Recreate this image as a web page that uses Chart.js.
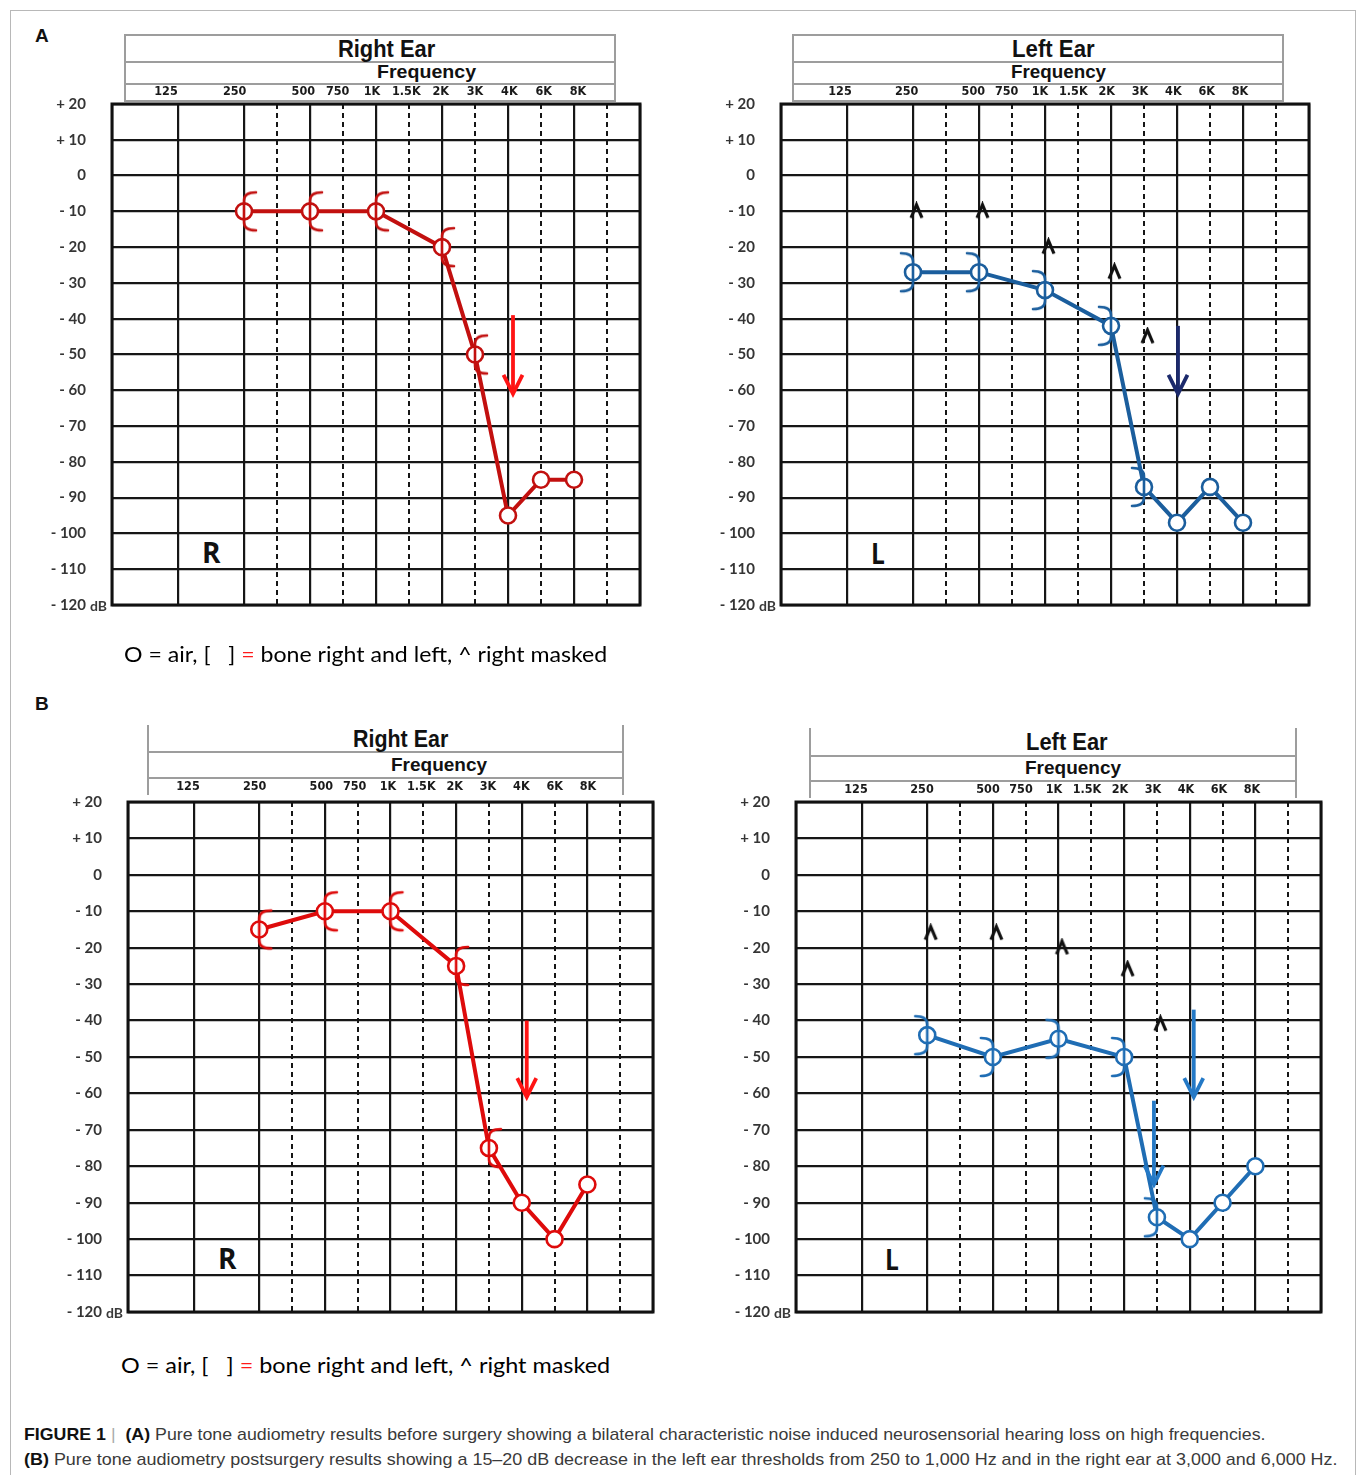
<!DOCTYPE html>
<html>
<head>
<meta charset="utf-8">
<script src="https://cdn.jsdelivr.net/npm/chart.js@4.4.0/dist/chart.umd.min.js"></script>
<style>
  html, body { margin: 0; padding: 0; background: #ffffff; }
  body { width: 1358px; height: 1475px; position: relative; overflow: hidden; font-family: "Liberation Sans", Arial, sans-serif; }
  .frame { position: absolute; left: 10px; top: 10px; width: 1346px; height: 1500px; border: 1px solid #b8b8b8; box-sizing: border-box; }
  .hline { position: absolute; height: 0; border-top: 2px solid #9d9d9d; }
  .vline { position: absolute; width: 0; border-left: 2px solid #9d9d9d; }
  .fit { position: absolute; white-space: nowrap; transform-origin: left center; line-height: 1; }
</style>
</head>
<body>
<div class="frame"></div>
<script>
// ---------------- DATA ----------------
// frequency axis (header tick labels)
const FREQ_LABELS = ['125', '250', '500', '750', '1K', '1.5K', '2K', '3K', '4K', '6K', '8K'];
const FREQ_HZ     = [125, 250, 500, 750, 1000, 1500, 2000, 3000, 4000, 6000, 8000];
// hearing level axis
const Y_TICKS       = [20, 10, 0, -10, -20, -30, -40, -50, -60, -70, -80, -90, -100, -110, -120];
const Y_TICK_LABELS = ['+ 20', '+ 10', '0', '- 10', '- 20', '- 30', '- 40', '- 50', '- 60', '- 70', '- 80', '- 90', '- 100', '- 110', '- 120'];

// tested frequencies
const AIR_FREQS  = [250, 500, 1000, 2000, 3000, 4000, 6000, 8000];
const BONE_FREQS = [250, 500, 1000, 2000, 3000];
const MASK_FREQS = [250, 500, 1000, 2000, 3000];

// (A) before surgery
const A_RIGHT_AIR  = [-10, -10, -10, -20, -50, -95, -85, -85];
const A_RIGHT_BONE = [-10, -10, -10, -20, -50];
const A_LEFT_AIR   = [-27, -27, -32, -42, -87, -97, -87, -97];
const A_LEFT_BONE  = [-27, -27, -32, -42, -87];
const A_LEFT_MASKED = [-10, -10, -20, -27, -45];
const A_RIGHT_ARROW_FREQ = [4000];
const A_RIGHT_ARROW_FROM = [-39];
const A_RIGHT_ARROW_TO   = [-61];
const A_LEFT_ARROW_FREQ  = [4000];
const A_LEFT_ARROW_FROM  = [-42];
const A_LEFT_ARROW_TO    = [-61];

// (B) after surgery
const B_RIGHT_AIR  = [-15, -10, -10, -25, -75, -90, -100, -85];
const B_RIGHT_BONE = [-15, -10, -10, -25, -75];
const B_LEFT_AIR   = [-44, -50, -45, -50, -94, -100, -90, -80];
const B_LEFT_BONE  = [-44, -50, -45, -50, -94];
const B_LEFT_MASKED = [-16, -16, -20, -26, -41];
const B_RIGHT_ARROW_FREQ = [4000];
const B_RIGHT_ARROW_FROM = [-40];
const B_RIGHT_ARROW_TO   = [-61];
const B_LEFT_ARROW_FREQ  = [4000, 3000];
const B_LEFT_ARROW_FROM  = [-37, -62];
const B_LEFT_ARROW_TO    = [-61, -85];

// ---------------- HELPERS ----------------
// audiogram position: octaves above 62.5 Hz, inter-octave frequencies drawn half way
function octavePos(f) { return Math.round(2 * Math.log2(f / 62.5)) / 2; }

const GRID_X = [0, 1, 2, 2.5, 3, 3.5, 4, 4.5, 5, 5.5, 6, 6.5, 7, 7.5, 8];
const YW = 70, PADR = 16, PADB = 40, TOPH = 40;

function fitText(html, opts) {
  const d = document.createElement('div');
  d.className = 'fit';
  d.innerHTML = html;
  d.style.font = opts.font;
  d.style.color = opts.color || '#111';
  document.body.appendChild(d);
  const w = d.offsetWidth, h = d.offsetHeight;
  const sx = opts.width ? opts.width / w : 1;
  const fw = w * sx;
  const left = opts.left !== undefined ? opts.left : opts.cx - fw / 2;
  d.style.left = left + 'px';
  d.style.top = (opts.cy - h / 2) + 'px';
  d.style.transform = 'scaleX(' + sx + ')';
  return d;
}

function line(cls, x, y, len) {
  const d = document.createElement('div');
  d.className = cls;
  d.style.left = x + 'px';
  d.style.top = y + 'px';
  if (cls === 'hline') d.style.width = len + 'px'; else d.style.height = len + 'px';
  document.body.appendChild(d);
}

function bracketCanvas(color, opensRight) {
  const c = document.createElement('canvas');
  c.width = 30; c.height = 44;
  const g = c.getContext('2d');
  g.strokeStyle = color; g.lineWidth = 2.6; g.lineCap = 'round';
  const cx = 15, s = opensRight ? 1 : -1;
  g.beginPath();
  g.moveTo(cx + s * 12, 3);
  g.quadraticCurveTo(cx, 3, cx, 11);
  g.lineTo(cx, 33);
  g.quadraticCurveTo(cx, 41, cx + s * 12, 41);
  g.stroke();
  return c;
}

function caretCanvas() {
  const c = document.createElement('canvas');
  c.width = 32; c.height = 20;
  const g = c.getContext('2d');
  g.strokeStyle = '#111'; g.lineWidth = 3.2; g.lineJoin = 'miter'; g.lineCap = 'butt';
  g.beginPath();
  g.moveTo(14, 16.5); g.lineTo(19.5, 3.5); g.lineTo(25, 16.5);
  g.stroke();
  return c;
}

function buildPanel(cfg) {
  const a = cfg.area;
  // header box
  const hb = cfg.header;
  line('vline', hb.l, hb.t, hb.b - hb.t);
  line('vline', hb.r, hb.t, hb.b - hb.t);
  if (hb.top) line('hline', hb.l, hb.t, hb.r - hb.l + 2);
  if (hb.bottom) line('hline', hb.l, hb.b, hb.r - hb.l + 2);
  hb.lines.forEach(y => line('hline', hb.l, y, hb.r - hb.l + 2));
  fitText(cfg.title.text, { font: 'bold 23px "Liberation Sans Narrow", "Arial Narrow", "Liberation Sans", sans-serif', cx: cfg.title.cx, cy: cfg.title.cy, width: cfg.title.w });
  fitText('Frequency', { font: 'bold 18px "Liberation Sans Narrow", "Arial Narrow", "Liberation Sans", sans-serif', cx: cfg.freqTitle.cx, cy: cfg.freqTitle.cy, width: cfg.freqTitle.w });
  fitText(cfg.ear.text, { font: 'bold 28px "Open Sans", sans-serif', cx: cfg.ear.cx, cy: cfg.ear.cy, width: cfg.ear.w });

  const cv = document.createElement('canvas');
  const left = a.l - YW, top = a.t - TOPH;
  const w = a.r - a.l + YW + PADR, h = a.b - a.t + TOPH + PADB;
  cv.width = w; cv.height = h;
  Object.assign(cv.style, { position: 'absolute', left: left + 'px', top: top + 'px', width: w + 'px', height: h + 'px' });
  document.body.appendChild(cv);

  const k = (cfg.lab.b - cfg.lab.a) / 6;
  const tmin = 1 - (cfg.lab.a - a.l) / k;
  const tmax = tmin + (a.r - a.l) / k;

  const datasets = [{
    label: 'air',
    data: AIR_FREQS.map((f, i) => ({ x: octavePos(f), y: cfg.air[i] })),
    showLine: true,
    borderColor: cfg.color, borderWidth: 4, tension: 0,
    pointStyle: 'circle', pointRadius: 8, pointBorderWidth: 2.6,
    pointBorderColor: cfg.color, pointBackgroundColor: '#ffffff',
    order: 3
  }, {
    label: 'bone',
    data: BONE_FREQS.map((f, i) => ({ x: octavePos(f), y: cfg.bone[i] })),
    showLine: false,
    pointStyle: bracketCanvas(cfg.color, cfg.side === 'R'),
    pointRadius: 6,
    order: 2
  }];
  if (cfg.masked) {
    datasets.push({
      label: 'masked',
      data: MASK_FREQS.map((f, i) => ({ x: octavePos(f), y: cfg.masked[i] })),
      showLine: false,
      pointStyle: caretCanvas(),
      pointRadius: 6,
      order: 1
    });
  }

  const panelPlugin = {
    id: 'panel' + cfg.side,
    afterDatasetsDraw(chart) {
      const { ctx, scales: { x, y } } = chart;
      cfg.arrows.freq.forEach((f, i) => {
        const px = x.getPixelForValue(octavePos(f)) + cfg.arrowNudge[i];
        const y1 = y.getPixelForValue(cfg.arrows.from[i]);
        const y2 = y.getPixelForValue(cfg.arrows.to[i]);
        ctx.save();
        ctx.strokeStyle = cfg.arrowColor; ctx.lineWidth = 3.8; ctx.lineCap = 'butt'; ctx.lineJoin = 'miter';
        ctx.beginPath(); ctx.moveTo(px, y1); ctx.lineTo(px, y2 - 2); ctx.stroke();
        ctx.beginPath(); ctx.moveTo(px - 9.5, y2 - 19); ctx.lineTo(px, y2); ctx.lineTo(px + 9.5, y2 - 19); ctx.stroke();
        ctx.restore();
      });
    },
    afterDraw(chart) {
      const { ctx, chartArea: ca, scales: { y } } = chart;
      ctx.save();
      ctx.strokeStyle = '#111'; ctx.lineWidth = 3;
      ctx.strokeRect(ca.left, ca.top, ca.right - ca.left, ca.bottom - ca.top);
      ctx.fillStyle = '#3a3a3a';
      ctx.font = 'bold 14px Lato, sans-serif';
      ctx.textBaseline = 'middle'; ctx.textAlign = 'left';
      ctx.fillText('dB', ca.left - 22, y.getPixelForValue(-120) + 1);
      ctx.restore();
    }
  };

  new Chart(cv, {
    type: 'scatter',
    data: { datasets },
    plugins: [panelPlugin],
    options: {
      responsive: false, animation: false, devicePixelRatio: 1,
      layout: { padding: { left: 0, right: PADR, top: 0, bottom: PADB } },
      plugins: { legend: { display: false }, tooltip: { enabled: false }, title: { display: false } },
      scales: {
        x: {
          type: 'linear', position: 'bottom', min: 0, max: 8,
          afterBuildTicks: s => { s.ticks = GRID_X.map(v => ({ value: v })); },
          afterFit: s => { s.height = 0; },
          ticks: { display: false, padding: 0 },
          grid: { color: '#161616', lineWidth: c => (c.tick && c.tick.value % 1) ? 2 : 2.2, drawTicks: false },
          border: { display: false, dash: c => (c.tick && c.tick.value % 1) ? [5, 4] : [] }
        },
        xTop: {
          type: 'linear', position: 'top', min: tmin, max: tmax,
          afterBuildTicks: s => { s.ticks = FREQ_HZ.map(f => ({ value: octavePos(f) })); },
          afterFit: s => { s.height = TOPH; },
          grid: { display: false, drawTicks: false },
          border: { display: false },
          ticks: {
            autoSkip: false, maxRotation: 0, padding: cfg.labPad, color: '#1a1a1a',
            font: { family: '"Liberation Sans Narrow", "Arial Narrow", "DejaVu Sans Condensed", sans-serif', size: 12.5, weight: 'bold' },
            callback: (v, i) => FREQ_LABELS[i]
          }
        },
        y: {
          type: 'linear', position: 'left', min: -120, max: 20,
          afterFit: s => { s.width = YW; },
          ticks: {
            stepSize: 10, padding: 26, color: '#353535',
            font: { family: 'Lato, sans-serif', size: 15, weight: 'bold' },
            callback: v => { const i = Y_TICKS.indexOf(v); return i < 0 ? '' : Y_TICK_LABELS[i]; }
          },
          grid: { color: '#161616', lineWidth: 2.2, drawTicks: false },
          border: { display: false }
        }
      }
    }
  });
}

// ---------------- PANELS ----------------
const PANELS = [
  { side: 'R', air: A_RIGHT_AIR, bone: A_RIGHT_BONE, masked: null,
    arrows: { freq: A_RIGHT_ARROW_FREQ, from: A_RIGHT_ARROW_FROM, to: A_RIGHT_ARROW_TO },
    color: '#c2100f', arrowColor: '#ff1414', arrowNudge: [5],
    area: { l: 112, r: 640, t: 104, b: 605 },
    header: { l: 124, r: 614, t: 34, b: 100, lines: [61, 83], top: true, bottom: true },
    title: { text: 'Right Ear', cx: 386, cy: 49, w: 97 },
    freqTitle: { cx: 426, cy: 72, w: 99 },
    lab: { a: 166, b: 578 }, labPad: 4.5,
    ear: { text: 'R', cx: 211, cy: 552, w: 18 } },
  { side: 'L', air: A_LEFT_AIR, bone: A_LEFT_BONE, masked: A_LEFT_MASKED,
    arrows: { freq: A_LEFT_ARROW_FREQ, from: A_LEFT_ARROW_FROM, to: A_LEFT_ARROW_TO },
    color: '#1b5e9d', arrowColor: '#1c2a6c', arrowNudge: [1],
    area: { l: 781, r: 1309, t: 104, b: 605 },
    header: { l: 792, r: 1282, t: 34, b: 100, lines: [61, 83], top: true, bottom: true },
    title: { text: 'Left Ear', cx: 1053, cy: 49, w: 83 },
    freqTitle: { cx: 1058, cy: 72, w: 95 },
    lab: { a: 840, b: 1240 }, labPad: 4.5,
    ear: { text: 'L', cx: 878, cy: 553, w: 14 } },
  { side: 'R', air: B_RIGHT_AIR, bone: B_RIGHT_BONE, masked: null,
    arrows: { freq: B_RIGHT_ARROW_FREQ, from: B_RIGHT_ARROW_FROM, to: B_RIGHT_ARROW_TO },
    color: '#de0b0b', arrowColor: '#ff1414', arrowNudge: [5],
    area: { l: 128, r: 653, t: 802, b: 1312 },
    header: { l: 147, r: 622, t: 725, b: 795, lines: [751, 777], top: false, bottom: false },
    title: { text: 'Right Ear', cx: 400, cy: 739, w: 95 },
    freqTitle: { cx: 439, cy: 765, w: 96 },
    lab: { a: 188, b: 588 }, labPad: 7.5,
    ear: { text: 'R', cx: 227, cy: 1258, w: 18 } },
  { side: 'L', air: B_LEFT_AIR, bone: B_LEFT_BONE, masked: B_LEFT_MASKED,
    arrows: { freq: B_LEFT_ARROW_FREQ, from: B_LEFT_ARROW_FROM, to: B_LEFT_ARROW_TO },
    color: '#1f6db4', arrowColor: '#2479c6', arrowNudge: [4, -3],
    area: { l: 796, r: 1321, t: 802, b: 1312 },
    header: { l: 809, r: 1295, t: 728, b: 798, lines: [755, 780], top: false, bottom: false },
    title: { text: 'Left Ear', cx: 1067, cy: 742, w: 82 },
    freqTitle: { cx: 1073, cy: 768, w: 96 },
    lab: { a: 856, b: 1252 }, labPad: 4.5,
    ear: { text: 'L', cx: 892, cy: 1259, w: 14 } }
];

PANELS.forEach(buildPanel);

// panel letters
fitText('A', { font: 'bold 19px "Liberation Sans", Arial, sans-serif', cx: 42, cy: 36 });
fitText('B', { font: 'bold 19px "Liberation Sans", Arial, sans-serif', cx: 42, cy: 704 });

// symbol legends
const LEGEND_HTML = 'O = air, [&nbsp;&nbsp; ] <span style="color:#ff1a1a">=</span> bone right and left, ^ right masked';
fitText(LEGEND_HTML, { font: '21px Lato, sans-serif', left: 124, cy: 653, width: 483, color: '#000' });
fitText(LEGEND_HTML, { font: '21px Lato, sans-serif', left: 121, cy: 1364, width: 489, color: '#000' });

// caption
fitText('<b style="color:#111">FIGURE 1</b><span style="color:#aaa">&nbsp;|&nbsp;&nbsp;</span><b style="color:#111">(A)</b> Pure tone audiometry results before surgery showing a bilateral characteristic noise induced neurosensorial hearing loss on high frequencies.',
  { font: '17px "Liberation Sans", Arial, sans-serif', left: 24, cy: 1435, width: 1241, color: '#3a3a3a' });
fitText('<b style="color:#111">(B)</b> Pure tone audiometry postsurgery results showing a 15–20 dB decrease in the left ear thresholds from 250 to 1,000 Hz and in the right ear at 3,000 and 6,000 Hz.',
  { font: '17px "Liberation Sans", Arial, sans-serif', left: 24, cy: 1460, width: 1314, color: '#3a3a3a' });
</script>
</body>
</html>
